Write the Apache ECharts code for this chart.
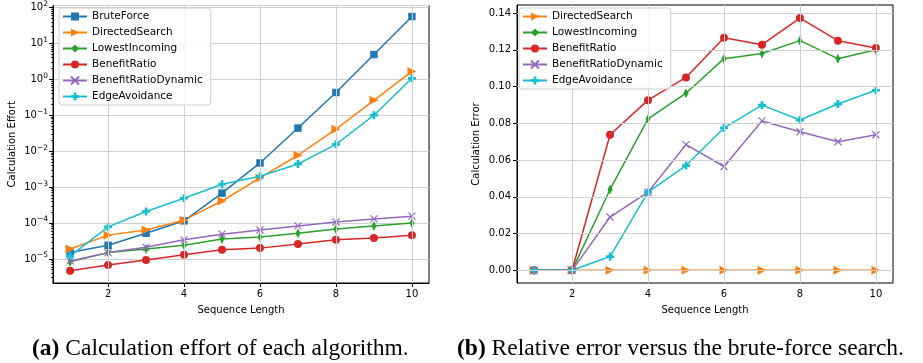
<!DOCTYPE html>
<html><head><meta charset="utf-8">
<script src="https://cdn.jsdelivr.net/npm/echarts@6/dist/echarts.min.js"></script>
<style>html,body{margin:0;padding:0;background:#fff;}#c{width:923px;height:363px;}</style>
</head><body><div id="c"></div>
<script>
const seqLength = [1, 2, 3, 4, 5, 6, 7, 8, 9, 10];
const xTicks = [2, 4, 6, 8, 10];
const errorTicks = [0, 0.02, 0.04, 0.06, 0.08, 0.10, 0.12, 0.14];
const effortDecades = [1e-6, 1e-5, 1e-4, 1e-3, 1e-2, 1e-1, 1, 10];

// (a) Calculation effort
const bruteForceEffort = [1.5e-5, 2.4e-5, 5.2e-5, 1.15e-4, 6.8e-4, 4.7e-3, 0.044, 0.43, 4.9, 56];
const directedSearchEffort = [1.9e-5, 4.6e-5, 6.4e-5, 1.2e-4, 4.1e-4, 1.8e-3, 7.7e-3, 0.041, 0.26, 1.66];
const lowestIncomingEffort = [8.3e-6, 1.5e-5, 1.9e-5, 2.4e-5, 3.6e-5, 4.1e-5, 5.2e-5, 6.8e-5, 8.3e-5, 1.0e-4];
const benefitRatioEffort = [4.7e-6, 6.8e-6, 9.3e-6, 1.3e-5, 1.8e-5, 2.0e-5, 2.6e-5, 3.4e-5, 3.8e-5, 4.6e-5];
const benefitRatioDynamicEffort = [8.8e-6, 1.5e-5, 2.1e-5, 3.4e-5, 4.9e-5, 6.4e-5, 8.3e-5, 1.07e-4, 1.3e-4, 1.55e-4];
const edgeAvoidanceEffort = [1.2e-5, 7.8e-5, 2.1e-4, 4.9e-4, 1.2e-3, 2.0e-3, 4.4e-3, 0.0155, 0.10, 1.07];

// (b) Relative error
const directedSearchError = [0, 0, 0, 0, 0, 0, 0, 0, 0, 0];
const lowestIncomingError = [0, 0, 0.044, 0.0824, 0.0964, 0.1152, 0.118, 0.125, 0.1152, 0.120];
const benefitRatioError = [0, 0, 0.0738, 0.0926, 0.105, 0.1266, 0.1228, 0.1373, 0.125, 0.121];
const benefitRatioDynamicError = [0, 0, 0.029, 0.0425, 0.0684, 0.0565, 0.0813, 0.0754, 0.070, 0.0738];
const edgeAvoidanceError = [0, 0, 0.0075, 0.0425, 0.057, 0.0775, 0.0899, 0.0818, 0.0905, 0.098];

const captionA = ['(a)', ' Calculation effort of each algorithm.'];
const captionB = ['(b)', ' Relative error versus the brute-force search.'];

// minor tick positions for the log axis (2..9 x each decade)
const minorTicks = [];
effortDecades.forEach(d => { for (let k = 2; k <= 9; k++) minorTicks.push(d * k); });

const FONT = 'DejaVu Sans';
const styles = {
  BruteForce: {color: '#1f77b4', symbol: 'rect', size: 7.5, rot: 0},
  DirectedSearch: {color: '#ff7f0e', symbol: 'triangle', size: 9, rot: -90},
  LowestIncoming: {color: '#2ca02c', symbol: 'diamond', size: [5, 10], rot: 0},
  BenefitRatio: {color: '#d62728', symbol: 'circle', size: 8, rot: 0},
  BenefitRatioDynamic: {color: '#9467bd', symbol: 'path://M0,0L10,10M10,0L0,10', size: 7, rot: 0, stroke: true},
  EdgeAvoidance: {color: '#17becf', symbol: 'path://M3.3,0H6.7V3.3H10V6.7H6.7V10H3.3V6.7H0V3.3H3.3Z', size: 8, rot: 0}
};
function mk(name, vals, idx) {
  const s = styles[name];
  return {
    name: name, type: 'line', xAxisIndex: idx, yAxisIndex: idx === 0 ? 0 : 2,
    data: seqLength.map((x, i) => [x, vals[i]]),
    symbol: s.symbol, symbolSize: s.size, symbolRotate: s.rot, showSymbol: true,
    lineStyle: {color: s.color, width: 1.5},
    itemStyle: {color: s.color, borderColor: s.color, borderWidth: s.stroke ? 1.2 : 0},
    emphasis: {disabled: true}, animation: false, clip: false, z: 3
  };
}
function supLabel(v) {
  const e = Math.round(Math.log10(v));
  return '{b|10}{s|' + (e < 0 ? '\u2212' + (-e) : String(e)) + '}';
}
const gridColor = '#cfcfcf';
const gridLine = {show: true, lineStyle: {color: gridColor, width: 1}};
const tickStyle = {show: true, length: 4, lineStyle: {color: '#000'}};
const axisLineStyle = {show: true, lineStyle: {color: '#000', width: 1}};
const labelText = {color: '#000', fontFamily: FONT, fontSize: 10};

const legendBase = {
  orient: 'vertical', itemWidth: 24, itemHeight: 10, itemGap: 5, zlevel: 1,
  padding: [3, 8, 3, 3], backgroundColor: 'rgba(255,255,255,0.82)',
  borderColor: '#cccccc', borderWidth: 1, borderRadius: 3,
  textStyle: {color: '#000', fontFamily: FONT, fontSize: 10.5}
};
const logMin = Math.pow(10, -5.67), logMax = Math.pow(10, 2.056);

const option = {
  animation: false,
  backgroundColor: '#fff',
  grid: [
    {left: 53, right: 494, top: 5, bottom: 80, show: true, borderColor: '#000', borderWidth: 1, containLabel: false},
    {left: 517, right: 30, top: 5, bottom: 80, show: true, borderColor: '#000', borderWidth: 1, containLabel: false}
  ],
  xAxis: [0, 1].map(i => ({
    gridIndex: i, type: 'value', min: 0.55, max: 10.45,
    name: 'Sequence Length', nameLocation: 'middle', nameGap: 22,
    nameTextStyle: labelText,
    axisLine: axisLineStyle,
    axisTick: Object.assign({customValues: xTicks}, tickStyle),
    axisLabel: Object.assign({customValues: xTicks, margin: 6}, labelText),
    splitLine: {show: false}
  })),
  yAxis: [
    {gridIndex: 0, type: 'log', logBase: 10, min: logMin, max: logMax,
     splitNumber: 8,
     name: 'Calculation Effort', nameLocation: 'middle', nameGap: 36, nameTextStyle: labelText,
     axisLine: axisLineStyle, axisTick: tickStyle,
     axisLabel: Object.assign({margin: 5, showMinLabel: false, showMaxLabel: false, formatter: supLabel,
       rich: {b: {fontFamily: FONT, fontSize: 10, color: '#000'}, s: {fontFamily: FONT, fontSize: 7.5, color: '#000', padding: [0, 0, 7, 0]}}}, labelText),
     splitLine: gridLine},
    {gridIndex: 0, type: 'log', logBase: 10, min: logMin, max: logMax, position: 'left',
     axisLine: {show: false}, axisLabel: {show: false}, splitLine: {show: false},
     axisTick: {show: true, length: 2, customValues: minorTicks, lineStyle: {color: '#000', width: 0.8}}},
    {gridIndex: 1, type: 'value', min: -0.0069, max: 0.1444,
     name: 'Calculation Error', nameLocation: 'middle', nameGap: 36, nameTextStyle: labelText,
     axisLine: axisLineStyle,
     axisTick: Object.assign({customValues: errorTicks}, tickStyle),
     axisLabel: Object.assign({customValues: errorTicks, margin: 6, formatter: v => v.toFixed(2)}, labelText),
     splitLine: {show: false}}
  ],
  legend: [
    Object.assign({left: 59, top: 8, data: ['BruteForce', 'DirectedSearch', 'LowestIncoming', 'BenefitRatio', 'BenefitRatioDynamic', 'EdgeAvoidance']}, legendBase),
    Object.assign({left: 519, top: 8, data: ['DirectedSearch', 'LowestIncoming', 'BenefitRatio', 'BenefitRatioDynamic', 'EdgeAvoidance']}, legendBase)
  ],
  series: [
    {type: 'line', xAxisIndex: 0, yAxisIndex: 0, data: [], silent: true, symbol: 'none', z: 1,
     markLine: {silent: true, symbol: 'none', label: {show: false}, lineStyle: {color: gridColor, width: 1, type: 'solid'},
       emphasis: {disabled: true}, data: xTicks.map(t => ({xAxis: t}))}},
    {type: 'line', xAxisIndex: 1, yAxisIndex: 2, data: [], silent: true, symbol: 'none', z: 1,
     markLine: {silent: true, symbol: 'none', label: {show: false}, lineStyle: {color: gridColor, width: 1, type: 'solid'},
       emphasis: {disabled: true}, data: xTicks.map(t => ({xAxis: t})).concat(errorTicks.map(t => ({yAxis: t})))}},
    mk('BruteForce', bruteForceEffort, 0),
    mk('DirectedSearch', directedSearchEffort, 0),
    mk('LowestIncoming', lowestIncomingEffort, 0),
    mk('BenefitRatio', benefitRatioEffort, 0),
    mk('BenefitRatioDynamic', benefitRatioDynamicEffort, 0),
    mk('EdgeAvoidance', edgeAvoidanceEffort, 0),
    mk('DirectedSearch', directedSearchError, 1),
    mk('LowestIncoming', lowestIncomingError, 1),
    mk('BenefitRatio', benefitRatioError, 1),
    mk('BenefitRatioDynamic', benefitRatioDynamicError, 1),
    mk('EdgeAvoidance', edgeAvoidanceError, 1)
  ],
  graphic: [
    {type: 'text', left: 32, top: 337, style: {text: '{b|' + captionA[0] + '}' + captionA[1], fill: '#000',
      font: '23.5px "Liberation Serif"', rich: {b: {fontWeight: 'bold', fontFamily: 'Liberation Serif', fontSize: 23.5, fill: '#000'}}}},
    {type: 'text', left: 457, top: 337, style: {text: '{b|' + captionB[0] + '}' + captionB[1], fill: '#000',
      font: '23.5px "Liberation Serif"', rich: {b: {fontWeight: 'bold', fontFamily: 'Liberation Serif', fontSize: 23.5, fill: '#000'}}}}
  ]
};
const chart = echarts.init(document.getElementById('c'), null, {renderer: 'canvas'});
chart.setOption(option);
</script></body></html>
